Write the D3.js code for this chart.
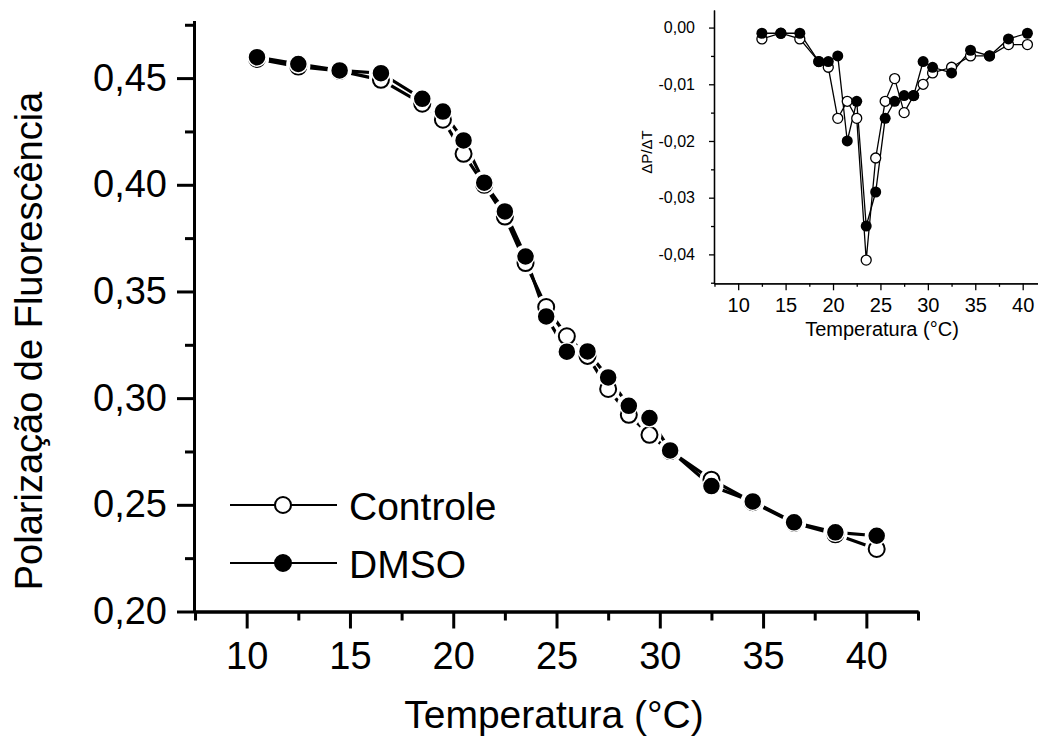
<!DOCTYPE html>
<html lang="pt">
<head>
<meta charset="UTF-8">
<title>Polarização de Fluorescência vs Temperatura</title>
<script src="https://d3js.org/d3.v7.min.js"></script>
<style>
  body { margin: 0; background: #fff; }
  svg text { font-family: "Liberation Sans", Arial, sans-serif; fill: #000; }
</style>
</head>
<body>
<div id="chart"></div>
<script>
// main chart data (temperature in °C, fluorescence polarization)
const temps = [10.5, 12.5, 14.5, 16.5, 18.5, 19.5, 20.5, 21.5, 22.5, 23.5, 24.5,
               25.5, 26.5, 27.5, 28.5, 29.5, 30.5, 32.5, 34.5, 36.5, 38.5, 40.5];
const controle = [0.459, 0.4554, 0.4534, 0.4492, 0.438, 0.4305, 0.4145, 0.400, 0.3851, 0.3633, 0.3427,
                  0.3290, 0.3198, 0.3043, 0.2922, 0.2828, 0.2752, 0.2618, 0.2512, 0.2415, 0.2362, 0.2293];
const dmso = [0.4598, 0.4566, 0.4536, 0.4523, 0.4403, 0.4343, 0.4208, 0.4010, 0.3875, 0.3664, 0.3383,
              0.3218, 0.3219, 0.3097, 0.2964, 0.2907, 0.2755, 0.2588, 0.2516, 0.2418, 0.2371, 0.2355];

// inset data (dP/dT)
const tempsD = [12.5, 14.5, 16.5, 18.5, 19.5, 20.5, 21.5, 22.5, 23.5, 24.5, 25.5,
                26.5, 27.5, 28.5, 29.5, 30.5, 32.5, 34.5, 36.5, 38.5, 40.5];
const controleD = [-0.002, -0.001, -0.002, -0.006, -0.007, -0.016, -0.013, -0.016, -0.041, -0.023, -0.013,
                   -0.009, -0.015, -0.012, -0.010, -0.008, -0.007, -0.005, -0.005, -0.003, -0.003];
const dmsoD = [-0.001, -0.001, -0.001, -0.006, -0.006, -0.005, -0.020, -0.013, -0.035, -0.029, -0.016,
               -0.013, -0.012, -0.012, -0.006, -0.007, -0.008, -0.004, -0.005, -0.002, -0.001];

const seriesNames = ["Controle", "DMSO"];
const xMajor = [10, 15, 20, 25, 30, 35, 40];
const xMinor = [7.5, 12.5, 17.5, 22.5, 27.5, 32.5, 37.5, 42.5];
const yMajor = [0.20, 0.25, 0.30, 0.35, 0.40, 0.45];
const yMinor = [0.225, 0.275, 0.325, 0.375, 0.425, 0.475];
const dMajor = [0, -0.01, -0.02, -0.03, -0.04];
const dMinor = [-0.005, -0.015, -0.025, -0.035, -0.045];

const W = 1038, H = 736;
const comma = f => v => d3.format(f)(v).replace(".", ",").replace("−", "-");

const svg = d3.select("#chart").append("svg")
    .attr("width", W).attr("height", H);

// ---------- main chart ----------
const x = d3.scaleLinear().domain([7.45, 42.5]).range([194, 918]);
const y = d3.scaleLinear().domain([0.2, 0.477]).range([611.5, 20.5]);

function styleAxis(g, width) {
    g.select(".domain").attr("stroke-width", width);
    g.selectAll(".tick line").attr("stroke-width", width);
}

// minor ticks
svg.append("g").attr("transform", "translate(0,611.5)")
    .call(d3.axisBottom(x).tickValues(xMinor).tickSize(9).tickSizeOuter(0).tickFormat(""))
    .call(g => styleAxis(g, 3));
svg.append("g").attr("transform", "translate(194,0)")
    .call(d3.axisLeft(y).tickValues(yMinor).tickSize(9).tickSizeOuter(0).tickFormat(""))
    .call(g => styleAxis(g, 3));

// major ticks
const xAx = svg.append("g").attr("transform", "translate(0,611.5)")
    .call(d3.axisBottom(x).tickValues(xMajor).tickSize(17).tickPadding(14).tickSizeOuter(0))
    .call(g => styleAxis(g, 3));
xAx.selectAll("text").attr("font-size", 38).attr("font-family", "Liberation Sans, Arial, sans-serif");

const yAx = svg.append("g").attr("transform", "translate(194,0)")
    .call(d3.axisLeft(y).tickValues(yMajor).tickSize(17).tickPadding(10).tickSizeOuter(0)
        .tickFormat(comma(".2f")))
    .call(g => styleAxis(g, 3));
yAx.selectAll("text").attr("font-size", 38).attr("font-family", "Liberation Sans, Arial, sans-serif");

svg.append("text")
    .attr("x", 554).attr("y", 728)
    .attr("text-anchor", "middle").attr("font-size", 39)
    .text("Temperatura (°C)");

svg.append("text")
    .attr("transform", "translate(42,341) rotate(-90)")
    .attr("text-anchor", "middle").attr("font-size", 38)
    .text("Polarização de Fluorescência");

const mainSeries = [controle, dmso];
const line = d3.line().x((d, i) => x(temps[i])).y(d => y(d));

mainSeries.forEach(s => {
    svg.append("path").datum(s)
        .attr("fill", "none").attr("stroke", "#000").attr("stroke-width", 3.2)
        .attr("d", line);
});
// white gaps round markers
mainSeries.forEach(s => {
    svg.append("g").selectAll("circle").data(s).join("circle")
        .attr("cx", (d, i) => x(temps[i])).attr("cy", d => y(d))
        .attr("r", 12).attr("fill", "#fff");
});
svg.append("g").selectAll("circle").data(controle).join("circle")
    .attr("cx", (d, i) => x(temps[i])).attr("cy", d => y(d))
    .attr("r", 8).attr("fill", "#fff").attr("stroke", "#000").attr("stroke-width", 2);
svg.append("g").selectAll("circle").data(dmso).join("circle")
    .attr("cx", (d, i) => x(temps[i])).attr("cy", d => y(d))
    .attr("r", 9).attr("fill", "#000").attr("stroke", "#fff").attr("stroke-width", 1.5);

// legend
const legY = [505, 563];
seriesNames.forEach((name, i) => {
    const g = svg.append("g");
    g.append("line").attr("x1", 230).attr("x2", 337).attr("y1", legY[i]).attr("y2", legY[i])
        .attr("stroke", "#000").attr("stroke-width", 2.2);
    g.append("circle").attr("cx", 283).attr("cy", legY[i]).attr("r", 8)
        .attr("fill", i === 0 ? "#fff" : "#000").attr("stroke", "#000").attr("stroke-width", 2);
    g.append("text").attr("x", 349).attr("y", legY[i] + 15)
        .attr("font-size", 39).text(name);
});

// ---------- inset ----------
const xi = d3.scaleLinear().domain([7.45, 42.5]).range([714, 1046.4]);
const yi = d3.scaleLinear().domain([-0.0451, 0.0031]).range([283.3, 10]);

svg.append("g").attr("transform", "translate(0,283.3)")
    .call(d3.axisBottom(xi).tickValues(xMinor).tickSize(3.5).tickSizeOuter(0).tickFormat(""))
    .call(g => styleAxis(g, 1.3));
svg.append("g").attr("transform", "translate(714,0)")
    .call(d3.axisLeft(yi).tickValues(dMinor).tickSize(3).tickSizeOuter(0).tickFormat(""))
    .call(g => styleAxis(g, 1.3));

const xiAx = svg.append("g").attr("transform", "translate(0,283.3)")
    .call(d3.axisBottom(xi).tickValues(xMajor).tickSize(7).tickPadding(8).tickSizeOuter(0))
    .call(g => styleAxis(g, 1.3));
xiAx.selectAll("text").attr("font-size", 20).attr("font-family", "Liberation Sans, Arial, sans-serif");

const yiAx = svg.append("g").attr("transform", "translate(714,0)")
    .call(d3.axisLeft(yi).tickValues(dMajor).tickSize(5).tickPadding(14).tickSizeOuter(0)
        .tickFormat(comma(".2f")))
    .call(g => styleAxis(g, 1.3));
yiAx.selectAll("text").attr("font-size", 16).attr("font-family", "Liberation Sans, Arial, sans-serif");

svg.append("text")
    .attr("transform", "translate(652,152) rotate(-90)")
    .attr("text-anchor", "middle").attr("font-size", 15)
    .text("ΔP/ΔT");

svg.append("text")
    .attr("x", 882).attr("y", 336)
    .attr("text-anchor", "middle").attr("font-size", 20)
    .text("Temperatura (°C)");

const lineD = d3.line().x((d, i) => xi(tempsD[i])).y(d => yi(d));
[controleD, dmsoD].forEach(s => {
    svg.append("path").datum(s)
        .attr("fill", "none").attr("stroke", "#000").attr("stroke-width", 1.3)
        .attr("d", lineD);
});
svg.append("g").selectAll("circle").data(controleD).join("circle")
    .attr("cx", (d, i) => xi(tempsD[i])).attr("cy", d => yi(d))
    .attr("r", 5).attr("fill", "#fff").attr("stroke", "#000").attr("stroke-width", 1.3);
svg.append("g").selectAll("circle").data(dmsoD).join("circle")
    .attr("cx", (d, i) => xi(tempsD[i])).attr("cy", d => yi(d))
    .attr("r", 5.5).attr("fill", "#000");
</script>
</body>
</html>
